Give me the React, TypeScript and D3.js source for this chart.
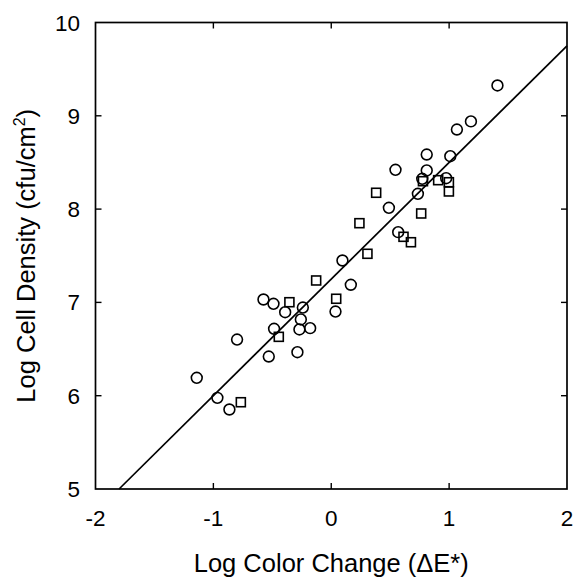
import React, { useRef, useEffect } from "react";
import * as d3 from "d3";

// circles (open)
const circleX = [1.41, 1.185, 1.066, 1.01, 0.81, 0.81, 0.545, 0.975, 0.772, 0.735, 0.489, 0.568, 0.095, 0.166,
  -0.575, -0.49, -0.391, -0.241, -0.258, -0.27, -0.179, 0.036, -0.485, -0.287, -0.53, -0.799, -1.141, -0.966, -0.864];
const circleY = [9.325, 8.94, 8.853, 8.567, 8.585, 8.414, 8.421, 8.331, 8.325, 8.164, 8.014, 7.753, 7.449, 7.189,
  7.031, 6.985, 6.895, 6.945, 6.817, 6.71, 6.724, 6.902, 6.717, 6.466, 6.42, 6.602, 6.192, 5.977, 5.852];

// squares (open)
const squareX = [0.778, 0.907, 0.998, 0.998, 0.381, 0.763, 0.239, 0.613, 0.676, 0.307, -0.128, -0.355, 0.042, -0.445, -0.767];
const squareY = [8.299, 8.31, 8.288, 8.189, 8.175, 7.953, 7.849, 7.703, 7.645, 7.521, 7.235, 7.002, 7.039, 6.631, 5.93];

// regression line y = a + b x
const fitIntercept = 7.25;
const fitSlope = 1.25;
const fitRange = [-1.8, 2];

const xTicks = [-2, -1, 0, 1, 2];
const yTicks = [5, 6, 7, 8, 9, 10];

const W = 578;
const H = 579;
const left = 95.5, right = 567, top = 22.5, bottom = 489;

export default function App() {
  const ref = useRef<SVGSVGElement>(null);

  useEffect(() => {
    const svg = d3.select(ref.current);
    svg.selectAll("*").remove();

    const x = d3.scaleLinear().domain([-2, 2]).range([left, right]);
    const y = d3.scaleLinear().domain([5, 10]).range([bottom, top]);
    const font = "'Liberation Sans', Arial, Helvetica, sans-serif";

    // frame
    svg.append("rect")
      .attr("x", left).attr("y", top)
      .attr("width", right - left).attr("height", bottom - top)
      .attr("fill", "none").attr("stroke", "#000").attr("stroke-width", 1.7);

    // inward ticks on all four sides
    const tl = 6;
    const tickG = svg.append("g").attr("stroke", "#000").attr("stroke-width", 1.4);
    xTicks.slice(1, -1).forEach(t => {
      tickG.append("line").attr("x1", x(t)).attr("x2", x(t)).attr("y1", bottom).attr("y2", bottom - tl);
      tickG.append("line").attr("x1", x(t)).attr("x2", x(t)).attr("y1", top).attr("y2", top + tl);
    });
    yTicks.slice(1, -1).forEach(t => {
      tickG.append("line").attr("y1", y(t)).attr("y2", y(t)).attr("x1", left).attr("x2", left + tl);
      tickG.append("line").attr("y1", y(t)).attr("y2", y(t)).attr("x1", right).attr("x2", right - tl);
    });

    // tick labels
    svg.append("g").selectAll("text").data(xTicks).join("text")
      .attr("x", d => x(d)).attr("y", 526)
      .attr("text-anchor", "middle")
      .attr("font-family", font).attr("font-size", 22.5)
      .text(d => String(d));

    svg.append("g").selectAll("text").data(yTicks).join("text")
      .attr("x", 80).attr("y", d => y(d) + 8)
      .attr("text-anchor", "end")
      .attr("font-family", font).attr("font-size", 22.5)
      .text(d => String(d));

    // axis titles
    const xt = svg.append("text")
      .attr("x", (left + right) / 2).attr("y", 572)
      .attr("text-anchor", "middle")
      .attr("font-family", font).attr("font-size", 25.5);
    xt.append("tspan").text("Log Color Change (\u0394E*)");

    const yt = svg.append("text")
      .attr("transform", `translate(35,${(top + bottom) / 2}) rotate(-90)`)
      .attr("text-anchor", "middle")
      .attr("font-family", font).attr("font-size", 25.5);
    yt.append("tspan").text("Log Cell Density (cfu/cm");
    yt.append("tspan").attr("font-size", 16).attr("dy", -10).text("2");
    yt.append("tspan").attr("dy", 10).text(")");

    // regression line
    const fit = d3.line<number>()
      .x(d => x(d))
      .y(d => y(fitIntercept + fitSlope * d));
    svg.append("path")
      .attr("d", fit(fitRange))
      .attr("fill", "none").attr("stroke", "#000").attr("stroke-width", 1.7);

    // circles
    svg.append("g").selectAll("circle").data(circleX).join("circle")
      .attr("cx", d => x(d)).attr("cy", (d, i) => y(circleY[i]))
      .attr("r", 5.4)
      .attr("fill", "none").attr("stroke", "#000").attr("stroke-width", 1.6);

    // squares
    const s = 9;
    svg.append("g").selectAll("rect").data(squareX).join("rect")
      .attr("x", d => x(d) - s / 2).attr("y", (d, i) => y(squareY[i]) - s / 2)
      .attr("width", s).attr("height", s)
      .attr("fill", "none").attr("stroke", "#000").attr("stroke-width", 1.6);
  }, []);

  return (
    <svg ref={ref} width={W} height={H} style={{ position: "absolute", left: 0, top: 0, background: "#fff" }} />
  );
}
